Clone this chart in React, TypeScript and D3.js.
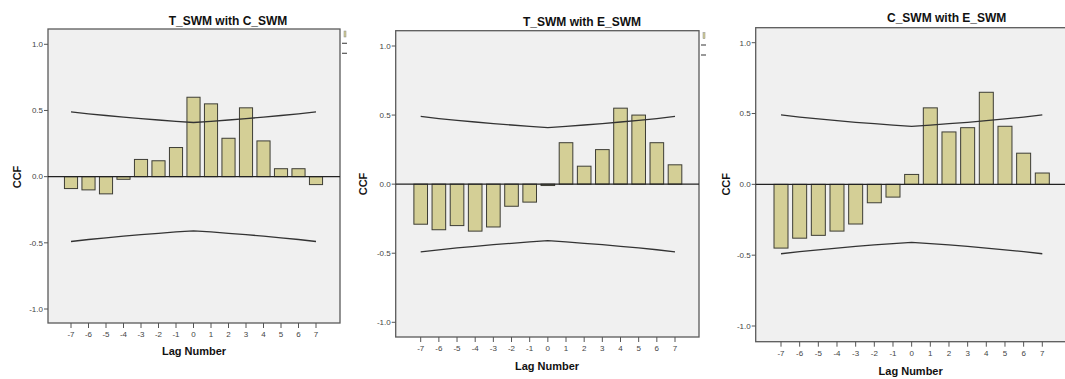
import React from "react";
import * as d3 from "d3";

// lags shown on every panel
const lags = [-7, -6, -5, -4, -3, -2, -1, 0, 1, 2, 3, 4, 5, 6, 7];

// cross-correlation values
const ccfTC = [-0.09, -0.1, -0.13, -0.02, 0.13, 0.12, 0.22, 0.6, 0.55, 0.29, 0.52, 0.27, 0.06, 0.06, -0.06];
const ccfTE = [-0.29, -0.33, -0.3, -0.34, -0.31, -0.16, -0.13, -0.01, 0.3, 0.13, 0.25, 0.55, 0.5, 0.3, 0.14];
const ccfCE = [-0.45, -0.38, -0.36, -0.33, -0.28, -0.13, -0.09, 0.07, 0.54, 0.37, 0.4, 0.65, 0.41, 0.22, 0.08];

// upper confidence limit per lag (lower one is its mirror)
const upperLimit = [0.49, 0.475, 0.462, 0.45, 0.438, 0.428, 0.418, 0.409, 0.418, 0.428, 0.438, 0.45, 0.462, 0.475, 0.49];

const yTicks = [-1.0, -0.5, 0.0, 0.5, 1.0];

const titles = ["T_SWM with C_SWM", "T_SWM with E_SWM", "C_SWM with E_SWM"];

const FONT = "'Liberation Sans', Arial, sans-serif";
const BAR_FILL = "#d4cf96";
const BAR_STROKE = "#3d3d35";

type Layout = {
  l: number; t: number; r: number; b: number;
  y1: number; ym1: number; xm7: number; x7: number;
  title: [number, number];
  xlab: [number, number];
  ylab: [number, number];
  legend: boolean;
};

const layouts: Layout[] = [
  { l: 48, t: 29, r: 340, b: 323, y1: 44.3, ym1: 309, xm7: 71, x7: 316, title: [228, 25], xlab: [194, 355], ylab: [17, 177], legend: true },
  { l: 395.7, t: 30.7, r: 699, b: 337, y1: 46, ym1: 322.3, xm7: 420.7, x7: 675, title: [582, 26], xlab: [547, 370], ylab: [363, 184], legend: true },
  { l: 755.7, t: 27.7, r: 1068, b: 341.7, y1: 42.7, ym1: 326, xm7: 781, x7: 1042.3, title: [946.7, 22], xlab: [910.7, 375], ylab: [725.7, 184.3], legend: false },
];

function Panel({ lay, values, title }: { lay: Layout; values: number[]; title: string }) {
  const x = d3.scaleLinear().domain([-7, 7]).range([lay.xm7, lay.x7]);
  const y = d3.scaleLinear().domain([-1, 1]).range([lay.ym1, lay.y1]);
  const step = x(1) - x(0);
  const bw = step * 0.75;

  const upper = d3.line<number>().x((d, i) => x(lags[i])).y(d => y(d));
  const lower = d3.line<number>().x((d, i) => x(lags[i])).y(d => y(-d));

  return (
    <g>
      <rect x={lay.l} y={lay.t} width={lay.r - lay.l} height={lay.b - lay.t} fill="#f0f0f0" stroke="#5a5a5a" strokeWidth={1.3} />

      {yTicks.map(v => (
        <g key={v}>
          <line x1={lay.l - 4} x2={lay.l} y1={y(v)} y2={y(v)} stroke="#555" />
          <text x={lay.l - 5} y={y(v)} dy="0.35em" textAnchor="end" fontSize={8} fill="#444" fontFamily={FONT}>
            {v.toFixed(1)}
          </text>
        </g>
      ))}

      {lags.map(k => (
        <g key={k}>
          <line x1={x(k)} x2={x(k)} y1={lay.b} y2={lay.b + 5} stroke="#555" />
          <text x={x(k)} y={lay.b + 14} textAnchor="middle" fontSize={8} fill="#444" fontFamily={FONT}>
            {k}
          </text>
        </g>
      ))}

      {values.map((v, i) => (
        <rect
          key={i}
          x={x(lags[i]) - bw / 2}
          y={Math.min(y(v), y(0))}
          width={bw}
          height={Math.abs(y(v) - y(0))}
          fill={BAR_FILL}
          stroke={BAR_STROKE}
          strokeWidth={1}
        />
      ))}

      <line x1={lay.l} x2={Math.min(lay.r, 1065)} y1={y(0)} y2={y(0)} stroke="#222" strokeWidth={1.1} />
      <path d={upper(upperLimit) || ""} fill="none" stroke="#333" strokeWidth={1.3} />
      <path d={lower(upperLimit) || ""} fill="none" stroke="#333" strokeWidth={1.3} />

      {lay.legend && (
        <g>
          <rect x={lay.r + 4} y={lay.t + 2} width={2} height={6} fill={BAR_FILL} stroke="#888" strokeWidth={0.5} />
          <line x1={lay.r + 2} x2={lay.r + 7} y1={y(1) - 1} y2={y(1) - 1} stroke="#555" strokeWidth={1.2} />
          <line x1={lay.r + 2} x2={lay.r + 7} y1={y(1) + 9} y2={y(1) + 9} stroke="#555" strokeWidth={1.2} />
        </g>
      )}

      <text x={lay.title[0]} y={lay.title[1]} textAnchor="middle" fontSize={12} fontWeight="bold" fill="#111" fontFamily={FONT}>
        {title}
      </text>
      <text x={lay.xlab[0]} y={lay.xlab[1]} textAnchor="middle" fontSize={11} fontWeight="bold" fill="#111" fontFamily={FONT}>
        Lag Number
      </text>
      <text
        transform={`translate(${lay.ylab[0]},${lay.ylab[1]}) rotate(-90)`}
        textAnchor="middle"
        dy="0.35em"
        fontSize={11}
        fontWeight="bold"
        fill="#111"
        fontFamily={FONT}
      >
        CCF
      </text>
    </g>
  );
}

export default function App() {
  const series = [ccfTC, ccfTE, ccfCE];
  return (
    <svg width={1065} height={379} style={{ position: "absolute", left: 0, top: 0, background: "#fff" }}>
      {layouts.map((lay, i) => (
        <Panel key={i} lay={lay} values={series[i]} title={titles[i]} />
      ))}
    </svg>
  );
}
